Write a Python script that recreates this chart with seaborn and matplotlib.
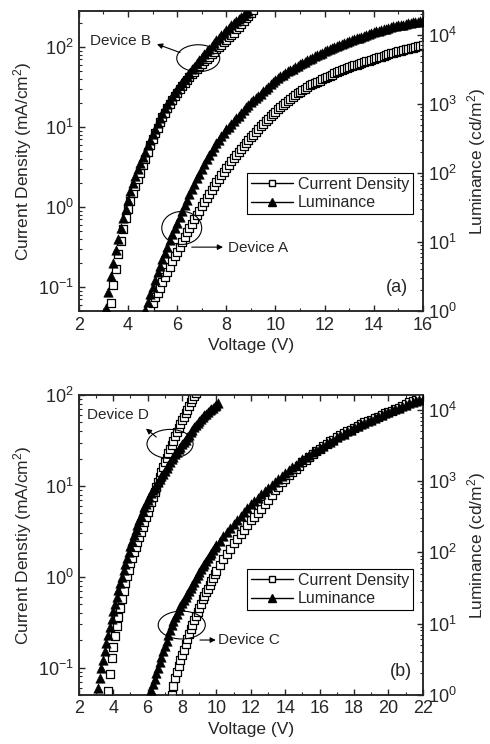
import matplotlib
matplotlib.use('Agg')
import matplotlib.pyplot as plt
from matplotlib.lines import Line2D
from matplotlib.patches import Ellipse
from matplotlib.ticker import MultipleLocator
import seaborn as sns

# ---------------- painel (a): dispositivos A e B ----------------
volt_b_j = [3.3, 3.4, 3.5, 3.6, 3.7, 3.8, 3.9, 4.0, 4.1, 4.2,
            4.3, 4.4, 4.5, 4.6, 4.7, 4.8, 4.9, 5.0, 5.1, 5.2,
            5.3, 5.4, 5.5, 5.6, 5.7, 5.8, 5.9, 6.0, 6.1, 6.2,
            6.3, 6.4, 6.5, 6.6, 6.7, 6.8, 6.9, 7.0, 7.1, 7.2,
            7.3, 7.4, 7.5, 7.6, 7.7, 7.8, 7.9, 8.0, 8.1, 8.2,
            8.3, 8.4, 8.5, 8.6, 8.7, 8.8, 8.9, 9.0, 9.1]
cur_b = [0.063, 0.105, 0.166, 0.257, 0.38, 0.537, 0.72, 0.955, 1.20, 1.48,
         1.82, 2.24, 2.69, 3.31, 3.98, 4.90, 5.89, 7.08, 8.32, 9.77,
         11.5, 13.2, 15.1, 17.4, 19.5, 21.9, 24.5, 26.9, 29.5, 32.4,
         35.5, 38.9, 41.7, 45.7, 49.0, 53.7, 57.5, 61.7, 66.1, 70.8,
         75.9, 81.3, 87.1, 93.3, 100, 107, 115, 123, 132, 141,
         151, 166, 178, 195, 209, 229, 245, 269, 288]

volt_b_l = [3.1, 3.2, 3.3, 3.4, 3.5, 3.6, 3.7, 3.8, 3.9, 4.0,
            4.1, 4.2, 4.3, 4.4, 4.5, 4.6, 4.7, 4.8, 4.9, 5.0,
            5.1, 5.2, 5.3, 5.4, 5.5, 5.6, 5.7, 5.8, 5.9, 6.0,
            6.1, 6.2, 6.3, 6.4, 6.5, 6.6, 6.7, 6.8, 6.9, 7.0,
            7.1, 7.2, 7.3, 7.4, 7.5, 7.6, 7.7, 7.8, 7.9, 8.0,
            8.1, 8.2, 8.3, 8.4, 8.5, 8.6, 8.7, 8.8, 8.9]
lum_b = [1.12, 1.91, 3.16, 5.01, 7.59, 11.0, 15.8, 21.9, 30.2, 40.7,
         55.0, 70.8, 89.1, 112, 138, 170, 204, 251, 302, 363,
         437, 525, 631, 741, 871, 1000, 1150, 1320, 1480, 1660,
         1860, 2090, 2290, 2570, 2820, 3160, 3470, 3890, 4270, 4790,
         5250, 5750, 6310, 6920, 7590, 8320, 9120, 10000, 10700, 11700,
         12600, 13800, 14800, 15800, 17000, 18200, 19500, 20900, 22400]

volt_a_j = [4.9, 5.0, 5.1, 5.2, 5.3, 5.4, 5.5, 5.6, 5.7, 5.8,
            5.9, 6.0, 6.1, 6.2, 6.3, 6.4, 6.5, 6.6, 6.7, 6.8,
            6.9, 7.0, 7.1, 7.2, 7.3, 7.4, 7.5, 7.6, 7.7, 7.8,
            7.9, 8.0, 8.1, 8.2, 8.3, 8.4, 8.5, 8.6, 8.7, 8.8,
            8.9, 9.0, 9.1, 9.2, 9.3, 9.4, 9.5, 9.6, 9.7, 9.8,
            9.9, 10.0, 10.1, 10.2, 10.3, 10.4, 10.5, 10.6, 10.7, 10.8,
            10.9, 11.0, 11.1, 11.2, 11.3, 11.4, 11.5, 11.6, 11.7, 11.8,
            11.9, 12.0, 12.1, 12.2, 12.3, 12.4, 12.5, 12.6, 12.7, 12.8,
            12.9, 13.0, 13.1, 13.2, 13.3, 13.4, 13.5, 13.6, 13.7, 13.8,
            13.9, 14.0, 14.1, 14.2, 14.3, 14.4, 14.5, 14.6, 14.7, 14.8,
            14.9, 15.0, 15.1, 15.2, 15.3, 15.4, 15.5, 15.6, 15.7, 15.8,
            15.9, 16.0]
cur_a = [0.055, 0.063, 0.074, 0.085, 0.098, 0.115, 0.132, 0.155, 0.178, 0.209,
         0.240, 0.275, 0.316, 0.363, 0.417, 0.479, 0.550, 0.617, 0.701, 0.794,
         0.891, 1.02, 1.15, 1.29, 1.45, 1.62, 1.82, 2.04, 2.24, 2.51,
         2.75, 3.09, 3.39, 3.72, 4.07, 4.47, 4.90, 5.37, 5.82, 6.31,
         6.84, 7.41, 8.04, 8.71, 9.44, 10.2, 10.9, 11.7, 12.6, 13.5,
         14.5, 15.5, 16.6, 17.8, 18.8, 20.0, 21.1, 22.4, 23.7, 25.1,
         26.3, 27.5, 28.8, 30.2, 31.6, 33.1, 34.3, 35.5, 36.7, 38.0,
         39.4, 40.7, 42.2, 43.7, 45.2, 46.8, 48.4, 50.1, 51.3, 52.5,
         54.3, 56.2, 57.5, 58.9, 60.3, 61.7, 63.1, 64.6, 66.1, 67.6,
         69.2, 70.8, 72.4, 74.1, 75.9, 77.6, 79.4, 81.3, 83.2, 85.1,
         87.1, 89.1, 90.2, 91.2, 93.3, 95.5, 96.6, 97.7, 100, 102,
         104, 105]

volt_a_l = [4.7, 4.8, 4.9, 5.0, 5.1, 5.2, 5.3, 5.4, 5.5, 5.6,
            5.7, 5.8, 5.9, 6.0, 6.1, 6.2, 6.3, 6.4, 6.5, 6.6,
            6.7, 6.8, 6.9, 7.0, 7.1, 7.2, 7.3, 7.4, 7.5, 7.6,
            7.7, 7.8, 7.9, 8.0, 8.1, 8.2, 8.3, 8.4, 8.5, 8.6,
            8.7, 8.8, 8.9, 9.0, 9.1, 9.2, 9.3, 9.4, 9.5, 9.6,
            9.7, 9.8, 9.9, 10.0, 10.1, 10.2, 10.3, 10.4, 10.5, 10.6,
            10.7, 10.8, 10.9, 11.0, 11.1, 11.2, 11.3, 11.4, 11.5, 11.6,
            11.7, 11.8, 11.9, 12.0, 12.1, 12.2, 12.3, 12.4, 12.5, 12.6,
            12.7, 12.8, 12.9, 13.0, 13.1, 13.2, 13.3, 13.4, 13.5, 13.6,
            13.7, 13.8, 13.9, 14.0, 14.1, 14.2, 14.3, 14.4, 14.5, 14.6,
            14.7, 14.8, 14.9, 15.0, 15.1, 15.2, 15.3, 15.4, 15.5, 15.6,
            15.7, 15.8, 15.9, 16.0]
lum_a = [1.05, 1.35, 1.74, 2.24, 2.85, 3.63, 4.52, 5.62, 6.92, 8.51,
         10.5, 12.9, 15.7, 19.1, 23.2, 28.2, 33.9, 40.7, 49.0, 58.9,
         70.0, 83.2, 97.7, 115, 135, 158, 182, 209, 237, 269,
         302, 339, 380, 427, 468, 513, 562, 617, 676, 741,
         813, 891, 966, 1050, 1140, 1230, 1320, 1410, 1530, 1660,
         1780, 1910, 2070, 2240, 2370, 2510, 2660, 2820, 2950, 3090,
         3240, 3390, 3550, 3720, 3890, 4070, 4270, 4470, 4680, 4900,
         5070, 5250, 5500, 5750, 5960, 6170, 6380, 6610, 6840, 7080,
         7330, 7590, 7850, 8130, 8410, 8710, 8910, 9120, 9440, 9770,
         10000, 10200, 10600, 11000, 11200, 11500, 11700, 12000, 12300, 12600,
         12900, 13200, 13500, 13800, 14000, 14100, 14500, 14800, 15000, 15100,
         15300, 15500, 15700, 15800]

# ---------------- painel (b): dispositivos C e D ----------------
volt_d_j = [3.7, 3.8, 3.9, 4.0, 4.1, 4.2, 4.3, 4.4, 4.5, 4.6,
            4.7, 4.8, 4.9, 5.0, 5.1, 5.2, 5.3, 5.4, 5.5, 5.6,
            5.7, 5.8, 5.9, 6.0, 6.1, 6.2, 6.3, 6.4, 6.5, 6.6,
            6.7, 6.8, 6.9, 7.0, 7.1, 7.2, 7.3, 7.4, 7.5, 7.6,
            7.7, 7.8, 7.9, 8.0, 8.1, 8.2, 8.3, 8.4, 8.5, 8.6,
            8.7, 8.8, 8.9]
cur_d = [0.055, 0.085, 0.126, 0.170, 0.224, 0.285, 0.363, 0.452, 0.562, 0.692,
         0.851, 1.01, 1.20, 1.40, 1.62, 1.86, 2.14, 2.43, 2.75, 3.13,
         3.55, 4.03, 4.57, 5.19, 5.89, 6.68, 7.59, 8.61, 9.77, 11.1,
         12.6, 14.3, 16.2, 18.2, 20.4, 22.9, 25.7, 28.5, 31.6, 35.1,
         38.9, 43.2, 47.9, 52.5, 57.5, 63.1, 69.2, 75.9, 83.2, 90.2,
         97.7, 106, 115]

volt_d_l = [3.1, 3.2, 3.3, 3.4, 3.5, 3.6, 3.7, 3.8, 3.9, 4.0,
            4.1, 4.2, 4.3, 4.4, 4.5, 4.6, 4.7, 4.8, 4.9, 5.0,
            5.1, 5.2, 5.3, 5.4, 5.5, 5.6, 5.7, 5.8, 5.9, 6.0,
            6.1, 6.2, 6.3, 6.4, 6.5, 6.6, 6.7, 6.8, 6.9, 7.0,
            7.1, 7.2, 7.3, 7.4, 7.5, 7.6, 7.7, 7.8, 7.9, 8.0,
            8.1, 8.2, 8.3, 8.4, 8.5, 8.6, 8.7, 8.8, 8.9, 9.0,
            9.1, 9.2, 9.3, 9.4, 9.5, 9.6, 9.7, 9.8, 9.9, 10.0,
            10.1]
lum_d = [1.25, 1.72, 2.36, 3.13, 4.16, 5.40, 7.00, 8.97, 11.5, 14.8,
         18.9, 23.7, 29.8, 36.9, 45.7, 56.1, 68.7, 83.4, 101, 121,
         145, 172, 204, 239, 279, 324, 375, 425, 481, 538,
         603, 668, 740, 809, 886, 970, 1060, 1160, 1270, 1390,
         1520, 1670, 1830, 2000, 2190, 2370, 2570, 2780, 3010, 3260,
         3520, 3810, 4130, 4470, 4830, 5230, 5660, 6070, 6490, 6950,
         7430, 7870, 8320, 8810, 9310, 9750, 10200, 10700, 11200, 11700,
         12200]

volt_c_j = [7.4, 7.5, 7.6, 7.7, 7.8, 7.9, 8.0, 8.1, 8.2, 8.3,
            8.4, 8.5, 8.6, 8.7, 8.8, 8.9, 9.0, 9.1, 9.2, 9.3,
            9.4, 9.5, 9.6, 9.7, 9.8, 9.9, 10.0,
            10.2, 10.4, 10.6, 10.8, 11.0, 11.2, 11.4, 11.6, 11.8, 12.0,
            12.2, 12.4, 12.6, 12.8, 13.0, 13.2, 13.4, 13.6, 13.8, 14.0,
            14.2, 14.4, 14.6, 14.8, 15.0, 15.2, 15.4, 15.6, 15.8, 16.0,
            16.2, 16.4, 16.6, 16.8, 17.0, 17.2, 17.4, 17.6, 17.8, 18.0,
            18.2, 18.4, 18.6, 18.8, 19.0, 19.2, 19.4, 19.6, 19.8, 20.0,
            20.2, 20.4, 20.6, 20.8, 21.0, 21.2, 21.4, 21.6, 21.8, 22.0]
cur_c = [0.050, 0.062, 0.076, 0.089, 0.105, 0.120, 0.138, 0.158, 0.182, 0.207,
         0.234, 0.263, 0.295, 0.331, 0.372, 0.412, 0.457, 0.507, 0.562, 0.617,
         0.676, 0.741, 0.813, 0.891, 0.977, 1.06, 1.15,
         1.35, 1.55, 1.78, 2.04, 2.34, 2.63, 2.95, 3.31, 3.72, 4.17,
         4.57, 5.01, 5.62, 6.31, 7.08, 7.94, 8.91, 9.77, 11.0, 12.0,
         13.2, 14.1, 15.5, 16.6, 18.2, 19.5, 20.9, 22.4, 24.0, 25.7,
         27.5, 28.8, 30.9, 32.4, 34.7, 36.3, 38.0, 39.8, 41.7, 43.7,
         45.7, 47.9, 50.1, 51.3, 53.7, 56.2, 57.5, 60.3, 63.1, 64.6,
         67.6, 70.8, 72.4, 75.9, 79.4, 83.2, 87.1, 89.1, 93.3, 95.5]

volt_c_l = [6.2, 6.3, 6.4, 6.5, 6.6, 6.7, 6.8, 6.9, 7.0, 7.1,
            7.2, 7.3, 7.4, 7.5, 7.6, 7.7, 7.8, 7.9, 8.0, 8.1,
            8.2, 8.3, 8.4, 8.5, 8.6, 8.7, 8.8, 8.9, 9.0, 9.1,
            9.2, 9.3, 9.4, 9.5, 9.6, 9.7, 9.8, 9.9, 10.0,
            10.2, 10.4, 10.6, 10.8, 11.0, 11.2, 11.4, 11.6, 11.8, 12.0,
            12.2, 12.4, 12.6, 12.8, 13.0, 13.2, 13.4, 13.6, 13.8, 14.0,
            14.2, 14.4, 14.6, 14.8, 15.0, 15.2, 15.4, 15.6, 15.8, 16.0,
            16.2, 16.4, 16.6, 16.8, 17.0, 17.2, 17.4, 17.6, 17.8, 18.0,
            18.2, 18.4, 18.6, 18.8, 19.0, 19.2, 19.4, 19.6, 19.8, 20.0,
            20.2, 20.4, 20.6, 20.8, 21.0, 21.2, 21.4, 21.6, 21.8, 22.0]
lum_c = [1.17, 1.41, 1.66, 2.00, 2.40, 2.88, 3.39, 4.07, 4.90, 5.75,
         6.92, 8.13, 9.55, 11.0, 12.3, 13.8, 15.5, 17.4, 19.3, 21.4,
         23.7, 26.3, 28.8, 31.6, 34.7, 38.9, 43.7, 47.9, 53.7, 58.9,
         64.6, 69.2, 75.9, 83.2, 91.2, 97.7, 107, 117, 127,
         146, 168, 193, 221, 251, 285, 324, 367, 417, 468,
         525, 582, 646, 724, 804, 891, 977, 1070, 1190, 1300,
         1410, 1550, 1680, 1840, 2000, 2160, 2320, 2510, 2690, 2920,
         3130, 3350, 3550, 3800, 4070, 4370, 4620, 4950, 5250, 5620,
         5890, 6240, 6530, 6920, 7240, 7590, 8040, 8410, 8910, 9330,
         9770, 10200, 10700, 11200, 11700, 12200, 12700, 13200, 13800, 14300]

# estilo
sns.set_style('ticks', {'xtick.direction': 'in', 'ytick.direction': 'in'})
plt.rcParams['font.family'] = ['Liberation Sans', 'DejaVu Sans']
plt.rcParams['mathtext.default'] = 'regular'
plt.rcParams['axes.linewidth'] = 1.1

fig = plt.figure(figsize=(4.9, 7.44), dpi=100)
ax_top = fig.add_axes([0.161, 0.582, 0.702, 0.403])
ax_bot = fig.add_axes([0.161, 0.066, 0.702, 0.403])


def draw_panel(ax, cur_sets, lum_sets, xlim, ylim_j, ylim_l, ylabel, tag):
    ax2 = ax.twinx()
    for v, j in cur_sets:
        sns.scatterplot(x=v, y=j, ax=ax, marker='s', s=28, color='white',
                        edgecolor='black', linewidth=0.9, zorder=3)
    for v, l in lum_sets:
        sns.scatterplot(x=v, y=l, ax=ax2, marker='^', s=46, color='black',
                        edgecolor='black', linewidth=0.4, zorder=3)
    ax.set_yscale('log')
    ax2.set_yscale('log')
    ax.set_xlim(*xlim)
    ax.set_ylim(*ylim_j)
    ax2.set_ylim(*ylim_l)
    ax.xaxis.set_major_locator(MultipleLocator(2))
    ax.xaxis.set_minor_locator(MultipleLocator(1))
    for a in (ax, ax2):
        a.tick_params(which='major', length=4, width=1, labelsize=13)
        a.tick_params(which='minor', length=2.5, width=0.8)
    ax.tick_params(axis='x', which='both', top=True, bottom=True, direction='in', pad=4)
    ax.tick_params(axis='y', which='both', left=True, right=False, direction='in')
    ax2.tick_params(axis='y', which='both', right=True, direction='in')
    ax.set_xlabel('Voltage (V)', fontsize=12.5, labelpad=3)
    ax.set_ylabel(ylabel, fontsize=12.5, labelpad=3)
    ax2.set_ylabel('Luminance (cd/m$^2$)', fontsize=12.5, labelpad=6)
    ax2.text(tag[1], tag[2], tag[0], transform=ax2.transAxes, fontsize=13,
             ha='center', va='center')
    handles = [
        Line2D([], [], color='black', lw=1, marker='s', markersize=5,
               markerfacecolor='white', markeredgecolor='black', label='Current Density'),
        Line2D([], [], color='black', lw=1, marker='^', markersize=6,
               markerfacecolor='black', markeredgecolor='black', label='Luminance'),
    ]
    return ax2, handles


def device_note(ax2, name, text_xy, ell_xy, ell_wh, arrow_from, arrow_to):
    ax2.add_patch(Ellipse(ell_xy, ell_wh[0], ell_wh[1], transform=ax2.transAxes,
                          fill=False, edgecolor='black', lw=0.8, zorder=5))
    ax2.annotate('', xy=arrow_to, xytext=arrow_from, xycoords='axes fraction',
                 textcoords='axes fraction',
                 arrowprops=dict(arrowstyle='-|>', color='black', lw=0.8,
                                 mutation_scale=8, shrinkA=0, shrinkB=0), zorder=5)
    ax2.text(text_xy[0], text_xy[1], name, transform=ax2.transAxes, fontsize=11,
             ha='left', va='center', zorder=5)


def add_legend(ax2, handles, anchor):
    leg = ax2.legend(handles=handles, loc='upper right', bbox_to_anchor=anchor,
                     frameon=True, fancybox=False, edgecolor='black', framealpha=1,
                     fontsize=11.5, handlelength=2.6, borderpad=0.25, labelspacing=0.2,
                     handletextpad=0.3, borderaxespad=0)
    leg.get_frame().set_linewidth(0.8)


# (a)
ax2_top, hd = draw_panel(ax_top, [(volt_b_j, cur_b), (volt_a_j, cur_a)],
                         [(volt_b_l, lum_b), (volt_a_l, lum_a)],
                         (2, 16), (0.05, 280), (1, 22000),
                         'Current Density (mA/cm$^2$)', ('(a)', 0.924, 0.08))
add_legend(ax2_top, hd, (0.971, 0.46))
device_note(ax2_top, 'Device B', (0.032, 0.90), (0.347, 0.843), (0.125, 0.09),
            (0.294, 0.862), (0.227, 0.89))
device_note(ax2_top, 'Device A', (0.433, 0.21), (0.299, 0.277), (0.116, 0.11),
            (0.328, 0.213), (0.419, 0.213))

# (b)
ax2_bot, hd = draw_panel(ax_bot, [(volt_d_j, cur_d), (volt_c_j, cur_c)],
                         [(volt_d_l, lum_d), (volt_c_l, lum_c)],
                         (2, 22), (0.05, 100), (1, 16000),
                         'Current Denstiy (mA/cm$^2$)', ('(b)', 0.936, 0.077))
add_legend(ax2_bot, hd, (0.971, 0.42))
device_note(ax2_bot, 'Device D', (0.023, 0.933), (0.265, 0.837), (0.134, 0.097),
            (0.225, 0.86), (0.195, 0.888))
device_note(ax2_bot, 'Device C', (0.404, 0.183), (0.299, 0.233), (0.137, 0.093),
            (0.352, 0.183), (0.398, 0.183))

fig.savefig('out.png', dpi=100)
